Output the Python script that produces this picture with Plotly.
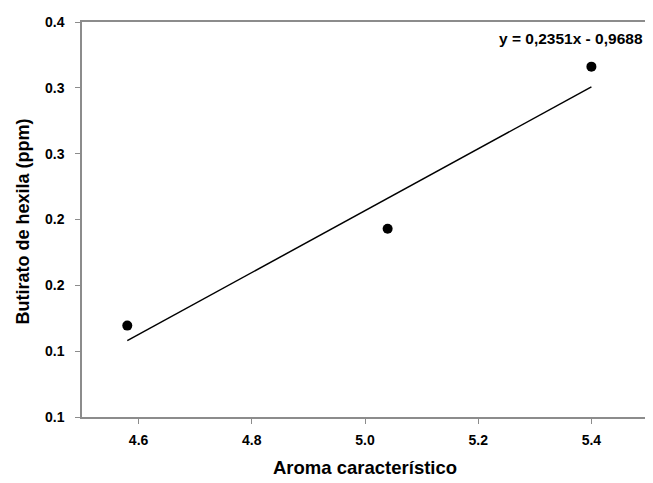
import plotly.graph_objects as go

# Data
aroma = [4.58, 5.04, 5.40]
butirato = [0.1194, 0.1930, 0.3161]

# Trend line endpoints (y = 0.2351x - 0.9688)
trend_x = [4.58, 5.40]
trend_y = [0.1080, 0.3007]
equation_text = "y = 0,2351x - 0,9688"

x_title = "Aroma característico"
y_title = "Butirato de hexila (ppm)"

x_tickvals = [4.6, 4.8, 5.0, 5.2, 5.4]
x_ticktext = ["4.6", "4.8", "5.0", "5.2", "5.4"]
y_tickvals = [0.05, 0.10, 0.15, 0.20, 0.25, 0.30, 0.35]
y_ticktext = ["0.1", "0.1", "0.2", "0.2", "0.3", "0.3", "0.4"]

font_family = "Liberation Sans, Arial, sans-serif"
axis_color = "#8c8c8c"

fig = go.Figure()
fig.add_trace(go.Scatter(
    x=trend_x, y=trend_y, mode="lines",
    line=dict(color="black", width=1.5),
    showlegend=False, hoverinfo="skip",
))
fig.add_trace(go.Scatter(
    x=aroma, y=butirato, mode="markers",
    marker=dict(color="black", size=10),
    showlegend=False,
))

fig.add_annotation(
    x=1.0, y=1.0, xref="paper", yref="paper",
    xanchor="right", yanchor="middle", xshift=-3, yshift=-16,
    text="<b>" + equation_text + "</b>", showarrow=False,
    font=dict(family=font_family, size=15.5, color="black"),
)
fig.add_annotation(
    x=0.5, y=0.0, xref="paper", yref="paper",
    xanchor="center", yanchor="middle", yshift=-50,
    text="<b>" + x_title + "</b>", showarrow=False,
    font=dict(family=font_family, size=18.5, color="black"),
)
fig.add_annotation(
    x=0.0, y=0.5, xref="paper", yref="paper",
    xanchor="center", yanchor="middle", xshift=-60, yshift=-2, textangle=-90,
    text="<b>" + y_title + "</b>", showarrow=False,
    font=dict(family=font_family, size=18, color="black"),
)

fig.update_layout(
    width=645, height=475,
    margin=dict(l=74, r=5, t=14, b=66),
    paper_bgcolor="white", plot_bgcolor="white",
    font=dict(family=font_family, color="black"),
)
fig.update_xaxes(
    range=[4.5, 5.5], tickvals=x_tickvals, ticktext=x_ticktext,
    showgrid=False, zeroline=False, automargin=False,
    showline=True, linecolor=axis_color, linewidth=1.5, mirror=True,
    ticks="outside", ticklen=5, tickcolor=axis_color, tickwidth=1,
    tickfont=dict(family=font_family, size=14, color="black", weight="bold"),
    ticklabelstandoff=4,
)
fig.update_yaxes(
    range=[0.05, 0.35], tickvals=y_tickvals, ticktext=y_ticktext,
    showgrid=False, zeroline=False, automargin=False,
    showline=True, linecolor=axis_color, linewidth=1.5, mirror=True,
    ticks="outside", ticklen=5, tickcolor=axis_color, tickwidth=1,
    tickfont=dict(family=font_family, size=14, color="black", weight="bold"),
    ticklabelstandoff=8,
)

fig.write_html("out.html")
